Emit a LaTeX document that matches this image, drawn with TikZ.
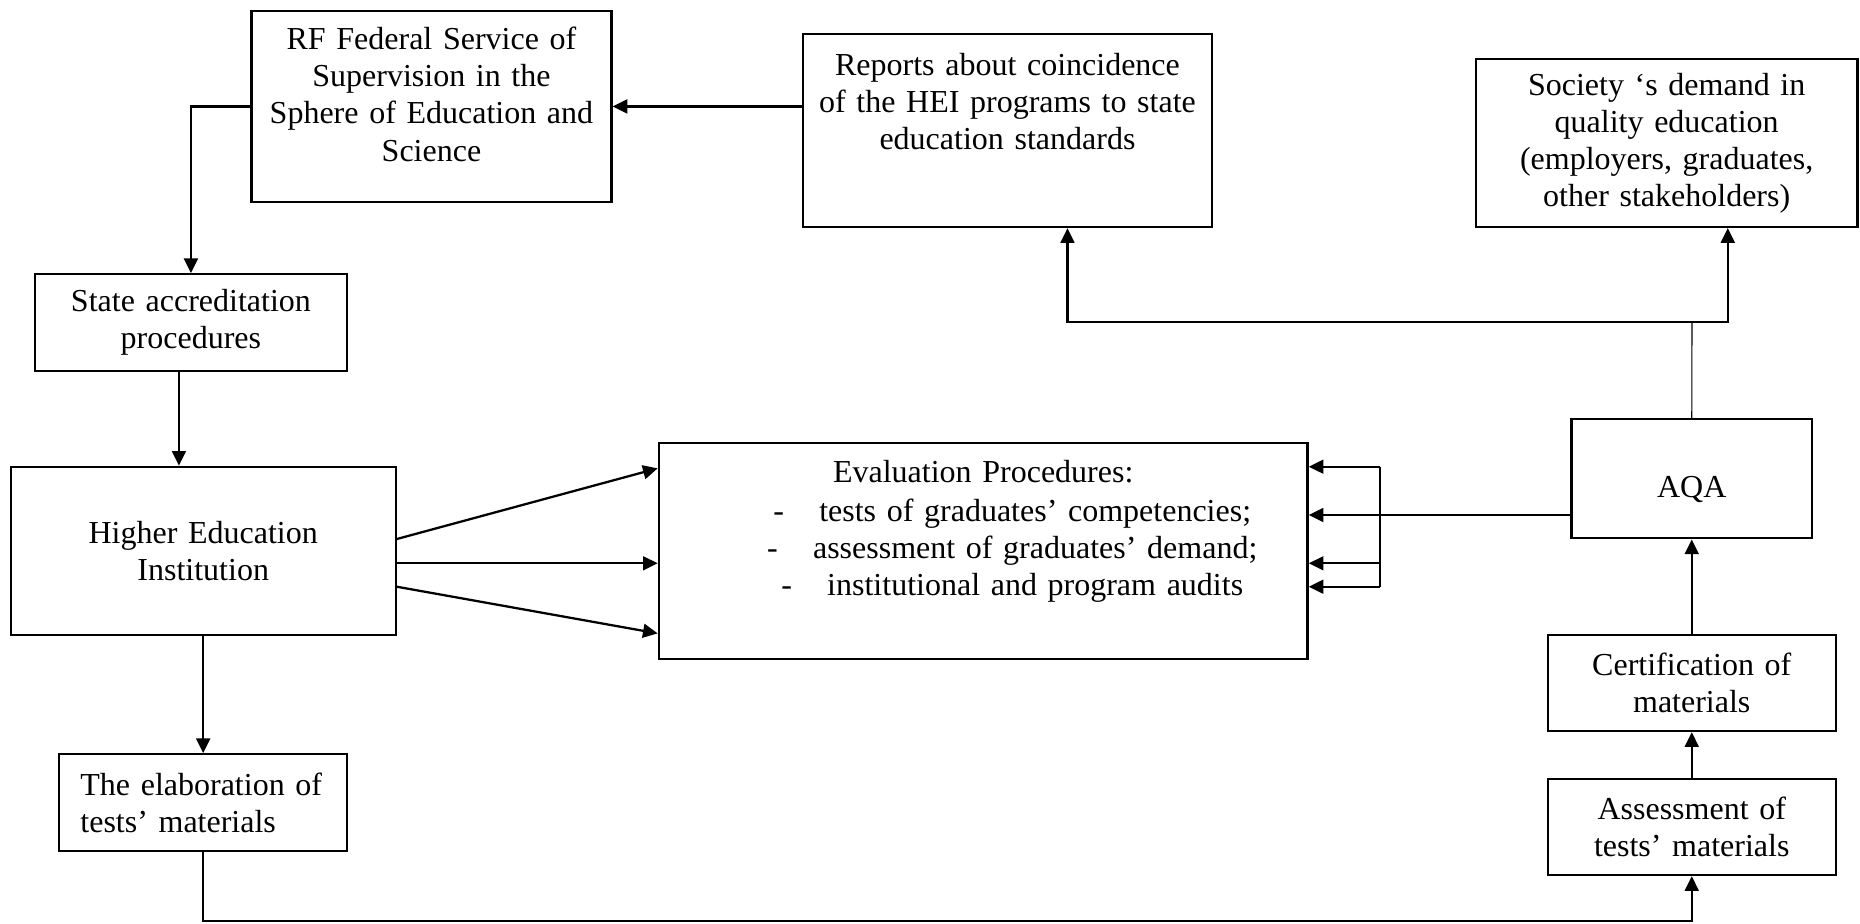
\documentclass[tikz,border=0pt]{standalone}
\usepackage{fontspec}
\setmainfont{Liberation Serif}
\usetikzlibrary{positioning,arrows.meta}

\newcommand{\dashitem}[1]{\makebox[39pt][l]{\hspace{21.8pt}-}#1}

\begin{document}
\begin{tikzpicture}[x=0.375pt,y=-0.375pt,on grid,line width=0.85pt,
                    >={Triangle[length=5.5pt,width=5.2pt]},
                    block/.style={draw,inner sep=0pt,align=center,
                                  font=\fontsize{12pt}{13.9pt}\selectfont}]
                    \useasboundingbox (0,0) rectangle (1860,923);
                    \node[block,text width=144.4pt,minimum height=63.1pt] (HEI) at (203.2,551) {Higher Education\\Institution};
                    \node[block,text width=243.3pt,text height=15pt,text depth=66.1pt] [right=292.5pt of HEI] (EP)
                        {Evaluation Procedures:\\[0.6pt]
                         \dashitem{tests of graduates’ competencies;}\\
                         \dashitem{assessment of graduates’ demand;}\\
                         \dashitem{institutional and program audits}};
                    \node[block,text width=92.1pt,inner xsep=8pt,minimum height=36.15pt,align=left] [below=94.3pt of HEI] (ETM) {The elaboration of\\tests’ materials};
                    \node[block,text width=117pt,minimum height=36.15pt] [above left=85.7pt and 4.6pt of HEI] (SAP) {State accreditation\\procedures};
                    \node[block,text width=135pt,text height=14.7pt,text depth=57.15pt] [above right=81pt and 90.2pt of SAP] (RF)
                        {RF Federal Service of\\Supervision in the\\Sphere of Education and\\Science};
                    \node[block,text width=153.4pt,text height=15.3pt,text depth=57pt] [below right=9.06pt and 216pt of RF] (Rep)
                        {Reports about coincidence\\of the HEI programs to state\\education standards};
                    \node[block,text width=143.06pt,minimum height=63pt] [below right=4.63pt and 247.2pt of Rep] (Soc)
                        {Society ‘s demand in\\quality education\\(employers, graduates,\\other stakeholders)};
                    \node[block,text width=90.1pt,text height=14pt,text depth=0pt,minimum height=44.7pt] [above right=27.1pt and 265.7pt of EP] (AQA) {AQA};
                    \node[block,text width=108pt,minimum height=36pt] [below=76.6pt of AQA] (CM) {Certification of\\materials};
                    \node[block,text width=108pt,minimum height=36pt] [below=54pt of CM] (AM) {Assessment of\\tests’ materials};
                    \coordinate (F1) at (1380,466.7);
                    \coordinate (F2) at (1380,586.7);
                    \coordinate (F3) at (1380,563.3);
                    \coordinate (J) at (1692,322);
                    \coordinate (B) at (0,921);
                    \draw[->] (Rep.west |- RF.east) -- (RF.east);
                    \draw[->] (RF.west) -| (SAP.north);
                    \draw[->] ([xshift=-4.5pt]SAP.south) -- ([xshift=-4.5pt]SAP.south |- HEI.north);
                    \draw[->] (HEI.south) -- (ETM.north);
                    \draw[->] ([yshift=4.5pt]HEI.east) -- ([yshift=31pt]EP.west);
                    \draw[->] ([yshift=-4.6pt]HEI.east) -- ([yshift=-4.6pt]EP.west);
                    \draw[->] ([yshift=-13.4pt]HEI.east) -- ([yshift=-30.9pt]EP.west);
                    \draw (F1) -- (F2);
                    \draw[->] (F1) -- (F1 -| EP.east);
                    \draw[->] (F3) -- (F3 -| EP.east);
                    \draw[->] (F2) -- (F2 -| EP.east);
                    \draw[->] ([yshift=-13.6pt]AQA.west) -- ([yshift=-13.6pt]AQA.west -| EP.east);
                    \draw[thin] (AQA.north) -- (J);
                    \draw[->] (J) -| ([xshift=22.5pt]Rep.south);
                    \draw[->] (J) -| ([xshift=22.9pt]Soc.south);
                    \draw[->] (ETM.south) -- (ETM.south |- B) -| (AM.south);
                    \draw[->] (AM.north) -- (CM.south);
                    \draw[->] (CM.north) -- (AQA.south);
                \end{tikzpicture}
\end{document}
